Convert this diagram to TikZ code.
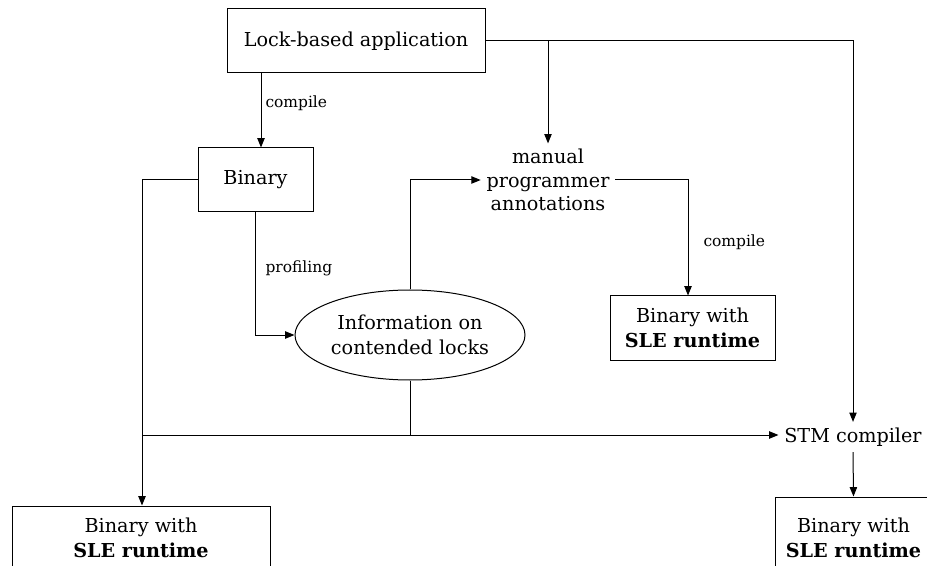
\documentclass[tikz,border=0pt]{standalone}
\usepackage{fontspec}
\setmainfont{DejaVu Serif}
\usetikzlibrary{arrows.meta,shapes.geometric}
\begin{document}
\begin{tikzpicture}[x=0.75pt,y=-0.75pt,
  line width=0.75pt,
  box/.style={draw, font=\fontsize{14.4}{18.5}\selectfont, align=center, inner sep=0pt},
  plain/.style={font=\fontsize{14.4}{17.5}\selectfont, align=center, inner sep=4pt},
  lbl/.style={font=\fontsize{11.6}{14}\selectfont, anchor=west, inner sep=0pt},
  arr/.style={-{Triangle[length=7pt,width=5.5pt]}}]
\useasboundingbox (0,0) rectangle (927,566);
\begin{scope}
\clip (0,0) rectangle (927,566);
\node[box, minimum width=193.5pt, minimum height=48pt] (lock) at (356,41) {Lock-based application};
\node[box, minimum width=86.25pt, minimum height=48pt] (binary) at (255.5,180) {Binary};
\node[plain] (ann) at (548,180) {manual\\programmer\\annotations};
\node[box, minimum width=123.75pt, minimum height=48pt] (sle) at (692.5,328) {Binary with\\\textbf{SLE runtime}};
\node[draw, ellipse, minimum width=172.5pt, minimum height=67.5pt, inner sep=0pt, font=\fontsize{14.4}{18.5}\selectfont, align=center] (info) at (410,335) {Information on\\contended locks};
\node[plain] (stm) at (853,437) {STM compiler};
\node[box, minimum width=193.5pt, minimum height=48pt] (outl) at (141,538) {Binary with\\\textbf{SLE runtime}};
\node[box, minimum width=117.75pt, minimum height=61.5pt] (outr) at (853.5,538) {Binary with\\\textbf{SLE runtime}};

\coordinate (c1) at (261,0);
\coordinate (c2) at (853,0);
\coordinate (c3) at (548,0);
\coordinate (c4) at (688,0);
\coordinate (c5) at (142,0);
\coordinate (j) at (142,435);

\draw[arr] (lock.south -| c1) -- (binary.north -| c1);
\node[lbl] (l1) at (265,103) {compile};
\draw[arr] (lock.east) -- (lock.east -| c2) -- (stm.north -| c2);
\draw[arr] (lock.east -| c3) -- (ann.north -| c3);
\draw[arr] (info.north) -- (info.north |- ann.west) -- (ann.west);
\draw[arr] (ann.east) -- (ann.east -| c4) -- (sle.north -| c4);
\node[lbl] (l2) at (703,242) {compile};
\draw[arr] (binary.south) -- (binary.south |- info.west) -- (info.west);
\node[lbl] (l3) at (265,268) {profiling};
\draw[arr] (binary.west) -- (binary.west -| c5) -- (outl.north -| c5);
\draw (info.south) -- (info.south |- j);
\draw[arr] (j) -- (j -| stm.west);
\draw[arr] (stm.south) -- (outr.north);
\end{scope}
\end{tikzpicture}
\end{document}
